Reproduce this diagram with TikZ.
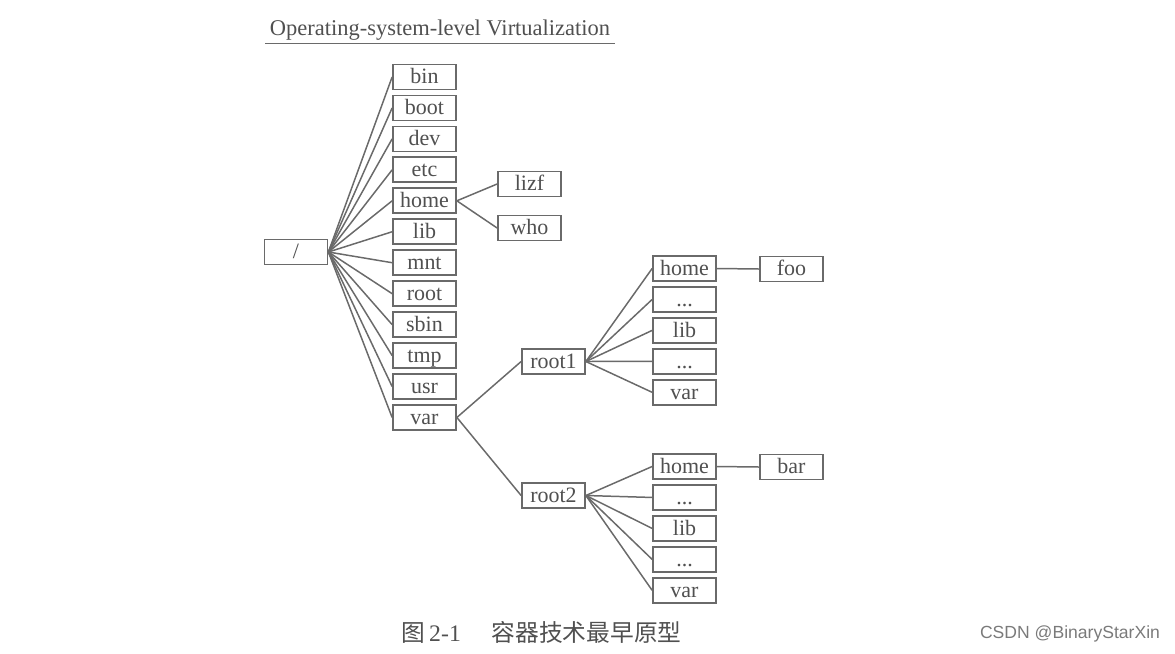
\documentclass[tikz,border=0pt]{standalone}
\usepackage{fontspec}
\setmainfont{Liberation Serif}
\newfontfamily\cjk{Noto Sans CJK SC}
\newfontfamily\wmfont{Liberation Sans}
\usepackage{xcolor}
\definecolor{inkgray}{HTML}{6A6A6A}
\definecolor{textgray}{HTML}{505050}
\definecolor{markgray}{HTML}{7A7A7A}
\usetikzlibrary{positioning}

\begin{document}
\begin{tikzpicture}[
            x=0.02cm, y=-0.02cm,
            node distance=0.084cm,
            box/.style={rectangle, draw=inkgray, fill=white, line width=1pt, minimum width=1.26cm, minimum height=0.5cm, inner sep=1pt, text height=1.75ex, text depth=0.05ex, text=textgray, font=\fontsize{12.5}{14}\selectfont},
            link/.style={draw=inkgray, line width=0.85pt}
        ]
            \useasboundingbox (0,0) rectangle (1175,653);

            % Title
            \node[text=textgray, inner sep=1.5pt, font=\fontsize{12.8}{14}\selectfont] (title) at (440,30.5) {Operating-system-level Virtualization};
            \draw[link] ([xshift=-1pt]title.south west) -- ([xshift=1pt]title.south east);

            % Root
            \node[box] (slash) at (296,252) {/};

            % First level
            \node[box] (bin) at (424.5,77) {bin};
            \node[box, below=of bin] (boot) {boot};
            \node[box, below=of boot] (dev) {dev};
            \node[box, below=of dev] (etc) {etc};
            \node[box, below=of etc] (home) {home};
            \node[box, below=of home] (lib) {lib};
            \node[box, below=of lib] (mnt) {mnt};
            \node[box, below=of mnt] (root) {root};
            \node[box, below=of root] (sbin) {sbin};
            \node[box, below=of sbin] (tmp) {tmp};
            \node[box, below=of tmp] (usr) {usr};
            \node[box, below=of usr] (var) {var};

            % Users
            \node[box] (lizf) at (529.5,184) {lizf};
            \node[box] (who) at (529.5,228) {who};

            % Container roots
            \node[box] (rootA) at (553.5,361.5) {root1};
            \node[box] (rootB) at (553.5,495.5) {root2};

            % root1 tree
            \node[box] (homeA) at (684.5,268.5) {home};
            \node[box, below=of homeA] (dotsA) {...};
            \node[box, below=of dotsA] (libA) {lib};
            \node[box, below=of libA] (moreA) {...};
            \node[box, below=of moreA] (varA) {var};
            \node[box] (foo) at (791.5,269) {foo};

            % root2 tree
            \node[box] (homeB) at (684.5,466.5) {home};
            \node[box, below=of homeB] (dotsB) {...};
            \node[box, below=of dotsB] (libB) {lib};
            \node[box, below=of libB] (moreB) {...};
            \node[box, below=of moreB] (varB) {var};
            \node[box] (bar) at (791.5,467) {bar};

            % Links
            \foreach \d in {bin,boot,dev,etc,home,lib,mnt,root,sbin,tmp,usr,var}
                \draw[link] (slash.east) -- (\d.west);
            \draw[link] (home.east) -- (lizf.west);
            \draw[link] (home.east) -- (who.west);
            \draw[link] (var.east) -- (rootA.west);
            \draw[link] (var.east) -- (rootB.west);
            \foreach \d in {homeA,dotsA,libA,moreA,varA}
                \draw[link] (rootA.east) -- (\d.west);
            \foreach \d in {homeB,dotsB,libB,moreB,varB}
                \draw[link] (rootB.east) -- (\d.west);
            \draw[link] (homeA.east) -- (foo.west);
            \draw[link] (homeB.east) -- (bar.west);

            % Caption
            \node[text=textgray, font=\fontsize{13.5}{15}\selectfont] (caption) at (541.5,632) {{\cjk 图}\,2-1\hspace{1.3em}{\cjk 容器技术最早原型}};
            \node[text=markgray, font=\wmfont\fontsize{10}{12}\selectfont] (mark) at (1070,634) {CSDN @BinaryStarXin};
        \end{tikzpicture}
\end{document}
